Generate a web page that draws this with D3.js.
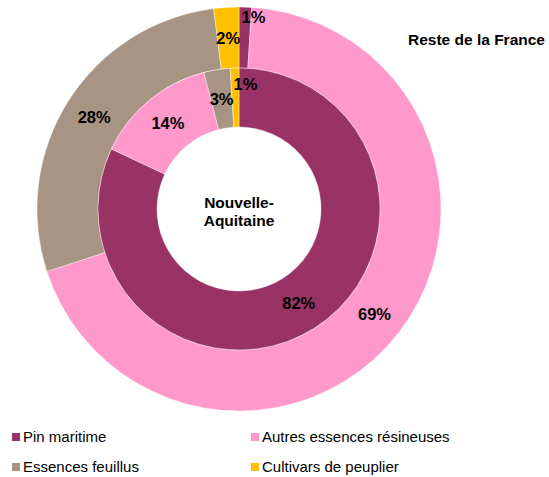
<!DOCTYPE html>
<html>
<head>
<meta charset="utf-8">
<script src="https://cdn.jsdelivr.net/npm/d3@7"></script>
<style>
    body { margin: 0; background: #fff; }
    text { font-family: "Liberation Sans", Arial, sans-serif; }
</style>
</head>
<body>
<div id="app"></div>
<script>
const width = 549;
const height = 477;

const categories = ["Pin maritime", "Autres essences résineuses", "Essences feuillus", "Cultivars de peuplier"];
const colors = ["#993366", "#FF99CC", "#A89483", "#FFC000"];
const nouvelleAquitaine = [82, 14, 3, 1];
const resteFrance = [1, 69, 28, 2];

const cx = 239;
const cy = 209;
const holeR = 82;
const innerOuterR = 141;
const outerOuterR = 202;

const svg = d3.select("#app")
    .append("svg")
    .attr("width", width)
    .attr("height", height);

const pie = d3.pie().sort(null).value(function (d) { return d; });
const color = d3.scaleOrdinal().domain(d3.range(categories.length)).range(colors);

const chart = svg.append("g").attr("transform", "translate(" + cx + "," + cy + ")");

//RINGS
function drawRing(values, r0, r1, nudges) {
    const arc = d3.arc().innerRadius(r0).outerRadius(r1);
    const arcs = pie(values);
    chart.append("g")
        .selectAll("path")
        .data(arcs)
        .enter()
        .append("path")
        .attr("d", arc)
        .style("fill", function (d) { return color(d.index); })
        .style("stroke", "#fff")
        .style("stroke-width", 0.4);
    chart.append("g")
        .selectAll("text")
        .data(arcs)
        .enter()
        .append("text")
        .attr("x", function (d) { return arc.centroid(d)[0] + (nudges[d.index] ? nudges[d.index][0] : 0); })
        .attr("y", function (d) { return arc.centroid(d)[1] + (nudges[d.index] ? nudges[d.index][1] : 0); })
        .attr("dy", "0.35em")
        .attr("text-anchor", "middle")
        .style("font-size", "16.5px")
        .style("font-weight", "bold")
        .style("fill", "#000")
        .text(function (d) { return d.data + "%"; });
}

drawRing(resteFrance, innerOuterR, outerOuterR, {0: [9, -20]});
drawRing(nouvelleAquitaine, holeR, innerOuterR, {3: [10, -13]});

//CENTER TITLE
chart.append("text")
    .attr("text-anchor", "middle")
    .attr("y", -1)
    .style("font-size", "15.5px")
    .style("font-weight", "bold")
    .text("Nouvelle-");
chart.append("text")
    .attr("text-anchor", "middle")
    .attr("y", 17)
    .style("font-size", "15.5px")
    .style("font-weight", "bold")
    .text("Aquitaine");

svg.append("text")
    .attr("x", 408)
    .attr("y", 45)
    .style("font-size", "15.5px")
    .style("font-weight", "bold")
    .text("Reste de la France");

//LEGEND
const legend = svg.append("g")
    .selectAll("g")
    .data(categories)
    .enter()
    .append("g")
    .attr("transform", function (d, i) {
        return "translate(" + (i % 2 === 0 ? 12 : 251) + "," + (Math.floor(i / 2) === 0 ? 437 : 467) + ")";
    });
legend.append("rect")
    .attr("x", 0)
    .attr("y", -4)
    .attr("width", 8)
    .attr("height", 8)
    .style("fill", function (d, i) { return color(i); });
legend.append("text")
    .attr("x", 11)
    .attr("dy", "0.35em")
    .style("font-size", "15px")
    .style("fill", "#000")
    .text(function (d) { return d; });
</script>
</body>
</html>
